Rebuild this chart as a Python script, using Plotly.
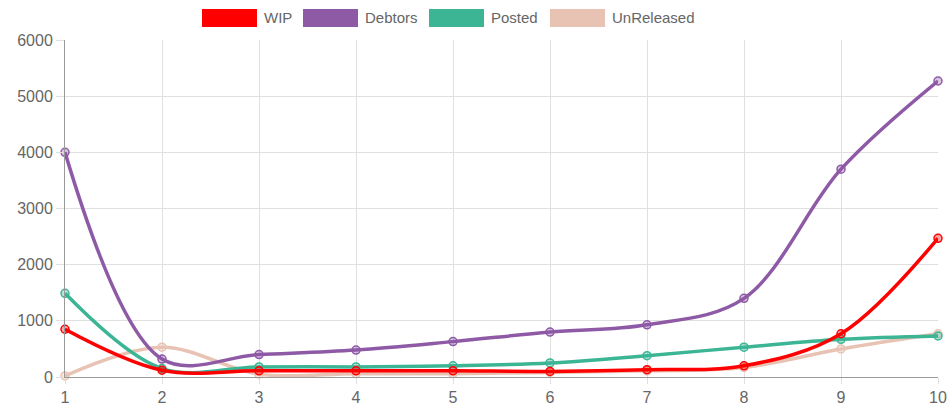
import plotly.graph_objects as go

periods = [1, 2, 3, 4, 5, 6, 7, 8, 9, 10]
wip = [850, 120, 110, 110, 110, 100, 130, 200, 770, 2470]
debtors = [4000, 320, 400, 480, 630, 800, 930, 1400, 3700, 5270]
posted = [1490, 150, 180, 180, 200, 250, 380, 530, 670, 730]
unreleased = [20, 530, 50, 60, 60, 80, 110, 170, 500, 770]

series = [
    ("UnReleased", unreleased, "#e8c3b4", "rgba(232,195,180,0.35)"),
    ("Posted", posted, "#3bb594", "rgba(59,181,148,0.35)"),
    ("Debtors", debtors, "#8e5aa6", "rgba(142,90,166,0.35)"),
    ("WIP", wip, "#ff0000", "rgba(255,0,0,0.35)"),
]

W, H = 949, 406
L, R, T, B = 65, 11, 40, 29

fig = go.Figure()
for name, vals, color, fill in series:
    fig.add_trace(go.Scatter(
        x=periods, y=vals, name=name, mode="lines+markers",
        line=dict(color=color, width=3.5, shape="spline", smoothing=1.0),
        marker=dict(symbol="circle", size=8, color=fill,
                    line=dict(color=color, width=1.5)),
        cliponaxis=False, showlegend=False,
    ))

# legend drawn as boxes + labels, chart.js style (pixel positions)
def px_x(p):
    return (p - L) / (W - L - R)

def px_y(p):
    return 1 - (p - T) / (H - T - B)

legend_items = [("WIP", "#ff0000", 202), ("Debtors", "#8e5aa6", 303),
                ("Posted", "#3bb594", 429), ("UnReleased", "#e8c3b4", 550)]
for label, color, x0 in legend_items:
    fig.add_shape(type="rect", xref="paper", yref="paper",
                  x0=px_x(x0), x1=px_x(x0 + 55), y0=px_y(27), y1=px_y(9),
                  fillcolor=color, line=dict(width=0))
    fig.add_annotation(xref="paper", yref="paper", x=px_x(x0 + 60), y=px_y(18),
                       xanchor="left", yanchor="middle", text=label, showarrow=False,
                       font=dict(size=15, color="#666"))

fig.update_layout(
    width=W, height=H,
    margin=dict(l=L, r=R, t=T, b=B),
    paper_bgcolor="white", plot_bgcolor="white",
    font=dict(family="Liberation Sans, Arial, sans-serif", size=15, color="#666"),
    showlegend=False,
)
fig.update_xaxes(range=[1, 10], tickvals=periods, showgrid=True, gridcolor="#e0e0e0",
                 zeroline=False, showline=True, linecolor="#999", ticks="outside",
                 tickcolor="#e0e0e0", ticklen=6, tickfont=dict(size=16), automargin=False)
fig.update_yaxes(range=[0, 6000], dtick=1000, showgrid=True, gridcolor="#e0e0e0",
                 zeroline=False, showline=True, linecolor="#999", ticks="outside",
                 tickcolor="#e0e0e0", ticklen=8, tickfont=dict(size=16), automargin=False)

# drop the default 8px body margin so the figure sits at the window origin
fig.write_html("out.html", config={"displayModeBar": False},
               post_script="document.body.style.margin='0';")
